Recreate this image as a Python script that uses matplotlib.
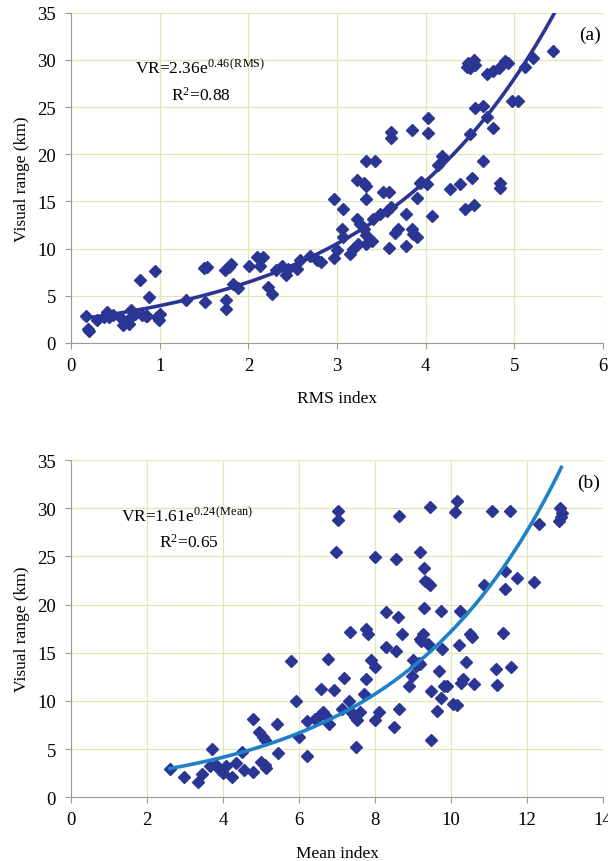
import numpy as np
import matplotlib.pyplot as plt

plt.rcParams['font.family'] = ['Liberation Serif', 'DejaVu Serif']
plt.rcParams['mathtext.fontset'] = 'custom'
plt.rcParams['mathtext.rm'] = 'Liberation Serif'
plt.rcParams['mathtext.it'] = 'Liberation Serif:italic'

# (a) RMS index vs visual range
rms_x = [0.17, 0.19, 0.20, 0.29, 0.37, 0.41, 0.43, 0.47, 0.56, 0.58, 0.62, 0.65, 0.67, 0.69,
         0.72, 0.78, 0.80, 0.84, 0.88, 0.86, 0.95, 0.97, 0.99, 1.00, 1.29, 1.50, 1.53, 1.51,
         1.73, 1.75, 1.75, 1.80, 1.78, 1.82, 1.88, 2.01, 2.10, 2.13, 2.16, 2.22, 2.26, 2.31,
         2.38, 2.42, 2.45, 2.55, 2.58, 2.69, 2.77, 2.82, 2.97, 3.00, 2.96, 3.07, 3.05, 3.07,
         3.15, 3.18, 3.22, 3.24, 3.26, 3.30, 3.33, 3.33, 3.39, 3.41, 3.48, 3.56, 3.61, 3.58,
         3.65, 3.69, 3.78, 3.78, 3.84, 3.86, 3.90, 3.90, 3.93, 4.07, 3.22, 3.30, 3.33, 3.33,
         3.33, 3.43, 3.52, 3.58, 3.61, 3.61, 3.84, 4.03, 4.03, 3.95, 4.01, 4.14, 4.18, 4.27,
         4.39, 4.52, 4.44, 4.54, 4.50, 4.65, 4.55, 4.65, 4.69, 4.76, 4.84, 4.84, 4.97, 5.04,
         4.48, 4.54, 4.50, 4.46, 4.55, 4.69, 4.76, 4.82, 4.89, 4.93, 5.12, 5.21, 5.44]
rms_vr = [2.85, 1.5, 1.3, 2.4, 2.7, 3.3, 2.8, 3.0, 2.6, 1.9, 2.25, 2.0, 3.5, 2.85,
          3.1, 6.7, 3.0, 2.9, 4.9, 2.85, 7.6, 2.7, 2.4, 3.1, 4.5, 7.9, 8.0, 4.3,
          7.7, 4.5, 3.6, 8.4, 8.0, 6.3, 5.8, 8.2, 9.1, 8.2, 9.1, 5.9, 5.2, 7.7,
          8.2, 7.2, 7.8, 7.8, 8.8, 9.2, 8.8, 8.6, 9.0, 9.9, 15.3, 14.2, 12.1, 11.2,
          9.4, 10.0, 13.1, 10.5, 12.6, 12.1, 11.4, 10.5, 10.8, 13.1, 13.7, 14.0, 14.4, 10.1,
          11.7, 12.1, 13.7, 10.3, 12.1, 11.6, 11.2, 15.4, 17.0, 13.5, 17.3, 17.0, 16.6, 15.3,
          19.3, 19.3, 16.0, 16.0, 22.4, 21.7, 22.6, 23.8, 22.3, 17.1, 16.8, 18.9, 19.8, 16.3,
          16.9, 17.5, 14.2, 14.6, 22.1, 19.3, 24.9, 25.1, 23.9, 22.8, 17.0, 16.4, 25.6, 25.6,
          29.7, 30.0, 29.2, 29.3, 29.5, 28.5, 28.8, 29.2, 29.9, 29.7, 29.3, 30.2, 30.9]
rms_fit = (2.42, 0.49, 0.15, 5.45)  # a, b, x start, x end of drawn curve

# (b) Mean index vs visual range
mean_x = [7.03, 7.01, 6.98, 8.62, 9.44, 10.15, 10.10, 11.07, 11.55, 12.86, 12.92, 12.88, 12.84,
          12.30, 8.00, 8.54, 9.18, 9.28, 9.31, 9.38, 9.44, 11.43, 11.74, 12.17, 10.87, 11.41,
          9.28, 8.29, 8.59, 9.74, 10.24, 7.34, 7.75, 7.80, 8.72, 9.17, 9.26, 9.20, 10.50, 10.56,
          11.36, 8.29, 8.55, 9.40, 9.75, 10.20, 9.00, 9.15,
          2.61, 2.97, 3.35, 3.44, 3.71, 3.66, 3.81, 3.92, 3.99, 4.07, 4.24, 4.33, 4.50, 4.56,
          4.79, 4.79, 4.94, 5.04, 5.09, 4.99, 5.09, 5.14, 5.43, 5.45, 5.78, 5.91, 5.99, 6.22,
          6.22, 6.42, 6.55, 6.63, 6.73, 6.57, 6.76, 6.78, 6.93, 7.14, 7.19, 7.30, 7.39, 7.46,
          7.52, 7.60, 7.49, 7.70, 7.75, 7.90, 8.00, 8.00, 8.11, 8.50, 8.64, 8.90, 8.98, 9.08,
          9.18, 9.47, 9.47, 9.64, 9.69, 9.74, 9.80, 9.90, 10.05, 10.15, 10.26, 10.31, 10.38,
          10.61, 11.18, 11.21, 11.58]
mean_vr = [29.7, 28.8, 25.5, 29.2, 30.1, 30.8, 29.6, 29.7, 29.7, 30.0, 29.5, 29.1, 28.7,
           28.4, 24.9, 24.7, 25.5, 23.8, 22.5, 22.2, 22.0, 23.5, 22.8, 22.4, 22.0, 21.6,
           19.6, 19.2, 18.7, 19.3, 19.3, 17.2, 17.5, 17.0, 16.9, 16.4, 16.9, 16.2, 17.0, 16.6,
           17.1, 15.6, 15.2, 15.9, 15.4, 15.8, 14.2, 13.9,
           2.9, 2.1, 1.6, 2.4, 5.05, 3.2, 3.3, 2.8, 2.5, 3.2, 2.1, 3.6, 4.7, 2.8,
           2.6, 8.1, 6.8, 6.3, 5.9, 3.7, 3.3, 3.0, 7.6, 4.6, 14.1, 10.0, 6.3, 4.3,
           7.9, 8.1, 8.5, 8.8, 8.3, 11.2, 14.4, 7.6, 11.1, 9.2, 12.4, 10.0, 8.7, 8.3,
           8.0, 8.8, 5.2, 10.7, 12.3, 14.2, 13.5, 8.0, 8.8, 7.3, 9.2, 11.5, 12.6, 13.6,
           13.8, 11.0, 5.9, 9.0, 13.1, 10.3, 11.6, 11.5, 9.7, 9.6, 11.9, 12.3, 14.0,
           11.75, 13.3, 11.65, 13.5]
mean_fit = (1.61, 0.237, 2.6, 12.9)

panels = [
    dict(x=rms_x, y=rms_vr, fit=rms_fit, xlim=(0, 6), xticks=range(0, 7),
         xlabel='RMS index', line='#2b3594', tag='(a)',
         eq=r'VR=2.36e$^{0.46\,\mathrm{(RMS)}}$', r2=r'R$^{2}$=0.88', eqx=0.72, eqy=29.2, r2x=1.13, r2y=26.3),
    dict(x=mean_x, y=mean_vr, fit=mean_fit, xlim=(0, 14), xticks=range(0, 15, 2),
         xlabel='Mean index', line='#1f80c8', tag='(b)',
         eq=r'VR=1.61e$^{0.24\,\mathrm{(Mean)}}$', r2=r'R$^{2}$=0.65', eqx=1.3, eqy=29.3, r2x=2.3, r2y=26.5),
]
rects = [[0.117, 0.601, 0.875, 0.383], [0.117, 0.074, 0.875, 0.391]]

fig = plt.figure(figsize=(6.08, 8.62), dpi=100)
for p, r in zip(panels, rects):
    ax = fig.add_axes(r)
    a, b, x0, x1 = p['fit']
    xx = np.linspace(x0, x1, 200)
    ax.plot(p['x'], p['y'], 'D', color='#2b3594', markersize=6.6, zorder=3)
    ax.plot(xx, a * np.exp(b * xx), color=p['line'], lw=2.6, zorder=4)
    ax.set_xlim(*p['xlim'])
    ax.set_ylim(0, 35)
    ax.set_xticks(list(p['xticks']))
    ax.set_yticks(range(0, 36, 5))
    ax.grid(True, color='#dfe8b4', lw=0.9)
    ax.set_axisbelow(True)
    for s in ['top', 'right']:
        ax.spines[s].set_visible(False)
    for s in ['left', 'bottom']:
        ax.spines[s].set_color('#9a9a9a')
    ax.tick_params(colors='#9a9a9a', labelcolor='black', labelsize=13.5, length=4)
    ax.tick_params(axis='y', pad=7)
    ax.tick_params(axis='x', pad=6)
    ax.set_xlabel(p['xlabel'], fontsize=12.5, labelpad=12)
    ax.set_ylabel('Visual range (km)', fontsize=12.5, labelpad=5)
    ax.text(p['eqx'], p['eqy'], p['eq'], fontsize=12.5, va='center')
    ax.text(p['r2x'], p['r2y'], p['r2'], fontsize=12.5, va='center')
    ax.text(0.995, 0.935, p['tag'], transform=ax.transAxes, fontsize=14, ha='right', va='center')

fig.savefig('out.png', dpi=100)
